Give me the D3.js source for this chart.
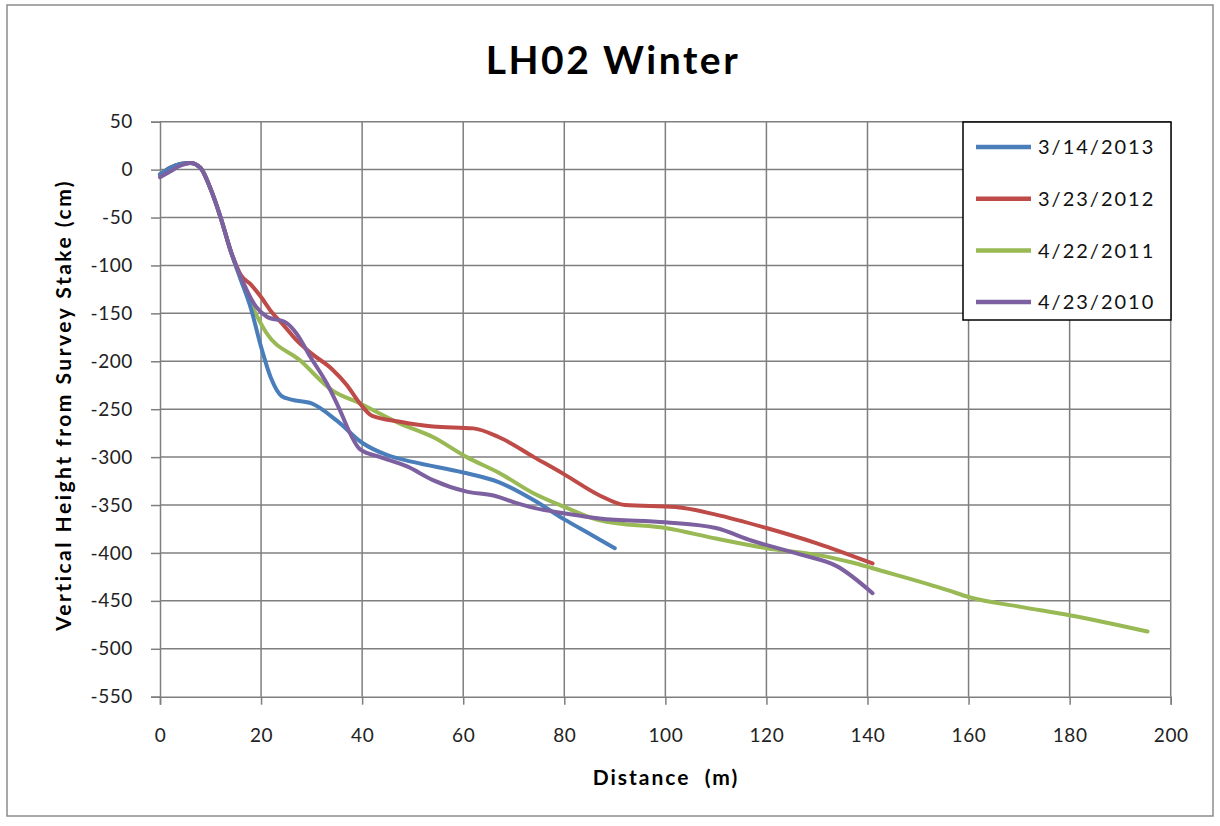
<!DOCTYPE html>
<html><head><meta charset="utf-8">
<script src="https://cdn.jsdelivr.net/npm/d3@7"></script>
<style>body{margin:0;background:#fff;} text{font-family:Lato,"Open Sans",sans-serif;}</style>
</head><body><svg id="c" width="1220" height="826"></svg>
<script>
const seriesNames = ["3/14/2013","3/23/2012","4/22/2011","4/23/2010"];
const seriesColors = ["#4a7ebb","#be4b48","#98b954","#7d60a0"];
const s2013 = [[0,-5],[2,2],[4,6],[6,7],[8,2],[10,-20],[12,-50],[14,-85],[16,-115],[18,-145],[20,-185],[22,-218],[24,-236],[26,-240],[30,-244],[35,-262],[40,-285],[45,-298],[50,-305],[60,-316],[67,-326],[74,-345],[80,-365],[85,-380],[90,-395]];
const s2012 = [[0,-5],[2,2],[4,6],[6,7],[8,2],[10,-20],[12,-50],[14,-85],[16,-110],[18,-120],[20,-133],[22,-148],[24.4,-162],[27,-178],[30,-192],[34,-208],[37,-225],[39,-240],[42,-257],[47.5,-263],[54,-268],[62,-270],[67,-279],[74,-300],[80,-318],[87,-340],[92,-350],[102,-352],[110,-360],[120,-374],[130,-390],[141,-411]];
const s2011 = [[0,-5],[2,2],[4,6],[6,7],[8,2],[10,-20],[12,-50],[14,-85],[16,-115],[18,-140],[21,-170],[27.7,-199],[34,-230],[39.6,-244],[47.5,-265],[54,-279],[60.7,-300],[67.3,-317],[74,-338],[80.5,-353],[87,-366],[90.4,-369],[100,-374],[110,-385],[120,-395],[130,-402],[137,-410],[141,-416],[156,-439],[160,-446],[170,-456],[180,-465],[195.4,-482]];
const s2010 = [[0,-8],[2,-2],[4,4],[6,7],[8,2],[10,-20],[12,-50],[14,-85],[16,-112],[19,-143],[21,-153],[25,-160],[27,-171],[29.7,-195],[33,-223],[35.6,-251],[37.6,-275],[39.6,-292],[43.6,-300],[49,-310],[54,-324],[60.7,-336],[66,-340],[70.6,-348],[74,-353],[80.5,-359],[87,-364],[100,-368],[110,-374],[117,-387],[127,-402],[134,-414],[141,-442]];
const xTicks = [0,20,40,60,80,100,120,140,160,180,200];
const yTicks = [50,0,-50,-100,-150,-200,-250,-300,-350,-400,-450,-500,-550];

const allSeries = [s2013,s2012,s2011,s2010];
const svg = d3.select("#c");
const L=160,R=1170.7,T=121.7,B=696.7;
const x = d3.scaleLinear().domain([0,200]).range([L,R]);
const y = d3.scaleLinear().domain([-550,50]).range([B,T]);

svg.append("rect").attr("x",7).attr("y",5).attr("width",1206).attr("height",811).attr("fill","#fff").attr("stroke","#8c8c8c").attr("stroke-width",1.5);

svg.append("text").attr("x",613).attr("y",74).attr("text-anchor","middle").attr("font-size",39).attr("font-weight","bold").attr("letter-spacing",2.5).attr("fill","#000").text("LH02 Winter");

// grid
const g = svg.append("g");
g.selectAll(".vg").data(xTicks.slice(1)).join("line").attr("x1",d=>x(d)).attr("x2",d=>x(d)).attr("y1",T).attr("y2",B).attr("stroke","#7f7f7f").attr("stroke-width",1.5);
g.selectAll(".hg").data(yTicks.slice(0,-1)).join("line").attr("x1",L).attr("x2",R).attr("y1",d=>y(d)).attr("y2",d=>y(d)).attr("stroke","#7f7f7f").attr("stroke-width",1.5);

const fmt = d=>String(d);
const xAxis = svg.append("g").attr("transform",`translate(0,${B})`).call(d3.axisBottom(x).tickValues(xTicks).tickFormat(fmt).tickSize(8).tickPadding(24));
const yAxis = svg.append("g").attr("transform",`translate(${L},0)`).call(d3.axisLeft(y).tickValues(yTicks).tickFormat(fmt).tickSize(9).tickPadding(18));
[xAxis,yAxis].forEach(a=>{a.select(".domain").attr("stroke","#7f7f7f").attr("stroke-width",1.5);a.selectAll(".tick line").attr("stroke","#7f7f7f").attr("stroke-width",1.5);a.selectAll("text").attr("font-size",19).attr("fill","#222").attr("letter-spacing",0.6).attr("font-family","Lato,sans-serif");});
xAxis.selectAll("text").attr("y",null).attr("dy",null).attr("y",45.5);

svg.append("text").attr("x",666).attr("y",785).attr("text-anchor","middle").attr("font-size",21).attr("font-weight","bold").attr("letter-spacing",2).text("Distance  (m)").style("white-space","pre");
svg.append("text").attr("transform","translate(71,405) rotate(-90)").attr("text-anchor","middle").attr("font-size",21).attr("font-weight","bold").attr("letter-spacing",2.5).text("Vertical Height from Survey Stake (cm)");

const line = d3.line().x(d=>x(d[0])).y(d=>y(d[1])).curve(d3.curveMonotoneX);
const order=[2,1,0,3];
order.forEach(i=>{
  svg.append("path").datum(allSeries[i]).attr("d",line).attr("fill","none").attr("stroke",seriesColors[i]).attr("stroke-width",4).attr("stroke-linejoin","round").attr("stroke-linecap","round");
});

// legend
const lg = svg.append("g");
lg.append("rect").attr("x",963).attr("y",122).attr("width",208).attr("height",198).attr("fill","#fff").attr("stroke","#000").attr("stroke-width",1.5);
seriesNames.forEach((n,i)=>{
  const yy = 147+i*51.7;
  lg.append("line").attr("x1",976).attr("x2",1031).attr("y1",yy).attr("y2",yy).attr("stroke",seriesColors[i]).attr("stroke-width",4.5);
  lg.append("text").attr("x",1038).attr("y",yy).attr("dy","0.36em").attr("font-size",20).attr("fill","#111").attr("letter-spacing",2).text(n);
});
</script></body></html>
